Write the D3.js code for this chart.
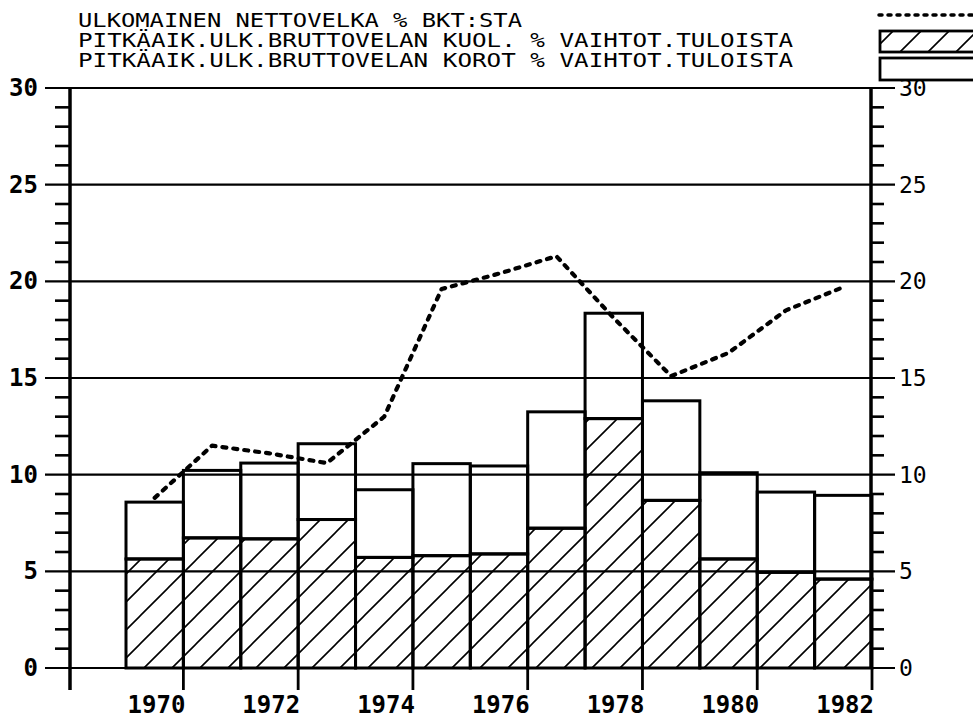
<!DOCTYPE html>
<html><head><meta charset="utf-8">
<script src="https://cdn.jsdelivr.net/npm/d3@7"></script>
<style>html,body{margin:0;padding:0;background:#fff}svg{display:block}</style>
</head><body>
<svg id="c" width="973" height="721"></svg>
<script>
const years = [1970,1971,1972,1973,1974,1975,1976,1977,1978,1979,1980,1981,1982];
const netDebt = [8.8,11.5,11.1,10.6,13.0,19.6,20.4,21.3,18.1,15.1,16.3,18.5,19.7];
const amortization = [5.64,6.73,6.68,7.68,5.72,5.81,5.9,7.23,12.9,8.67,5.64,4.95,4.6];
const interest = [2.94,3.49,3.92,3.92,3.5,4.76,4.55,6.02,5.45,5.15,4.46,4.15,4.33];
const xTickYears = [1970,1972,1974,1976,1978,1980,1982];
const yMajor = [0,5,10,15,20,25,30];
const legendLabels = [
  "ULKOMAINEN NETTOVELKA % BKT:STA",
  "PITKÄAIK.ULK.BRUTTOVELAN KUOL. % VAIHTOT.TULOISTA",
  "PITKÄAIK.ULK.BRUTTOVELAN KOROT % VAIHTOT.TULOISTA"
];

const svg = d3.select("#c");
const x = d3.scaleLinear().domain([1969,1982]).range([126,872]);
const y = d3.scaleLinear().domain([0,30]).range([668,88]);
const mono = "'DejaVu Sans Mono', 'Liberation Mono', monospace";

// hatch pattern
const defs = svg.append("defs");
const pat = defs.append("pattern").attr("id","hatch").attr("patternUnits","userSpaceOnUse")
  .attr("width",28).attr("height",28);
pat.append("path").attr("d","M-7,7 L7,-7 M0,28 L28,0 M21,35 L35,21")
  .attr("stroke","#000").attr("stroke-width",1.6).attr("fill","none");

// gridlines
svg.append("g").selectAll("line").data(yMajor).join("line")
  .attr("x1",45).attr("x2",895).attr("y1",d=>y(d)).attr("y2",d=>y(d))
  .attr("stroke","#000").attr("stroke-width",2.2);

// minor ticks
const minor = d3.range(0,31).filter(d=>d%5!==0);
svg.append("g").selectAll("line").data(minor).join("line")
  .attr("x1",55).attr("x2",70).attr("y1",d=>y(d)).attr("y2",d=>y(d))
  .attr("stroke","#000").attr("stroke-width",2.6);
svg.append("g").selectAll("line").data(minor).join("line")
  .attr("x1",871).attr("x2",884).attr("y1",d=>y(d)).attr("y2",d=>y(d))
  .attr("stroke","#000").attr("stroke-width",2.6);

// axes lines
svg.append("line").attr("x1",70).attr("x2",70).attr("y1",y(30)).attr("y2",690)
  .attr("stroke","#000").attr("stroke-width",3.5);
svg.append("line").attr("x1",871).attr("x2",871).attr("y1",y(30)).attr("y2",y(0))
  .attr("stroke","#000").attr("stroke-width",3.5);

// x ticks
svg.append("g").selectAll("line").data(xTickYears).join("line")
  .attr("x1",d=>x(d)).attr("x2",d=>x(d)).attr("y1",y(0)).attr("y2",690)
  .attr("stroke","#000").attr("stroke-width",2.8);

// bars: amortization (hatched) and interest (open) stacked
const bars = svg.append("g");
bars.selectAll("rect.am").data(years).join("rect").attr("class","am")
  .attr("x",d=>x(d-1)).attr("width",d=>x(d)-x(d-1))
  .attr("y",(d,i)=>y(amortization[i])).attr("height",(d,i)=>y(0)-y(amortization[i]))
  .attr("fill","url(#hatch)").attr("stroke","#000").attr("stroke-width",3);
bars.selectAll("rect.in").data(years).join("rect").attr("class","in")
  .attr("x",d=>x(d-1)).attr("width",d=>x(d)-x(d-1))
  .attr("y",(d,i)=>y(amortization[i]+interest[i])).attr("height",(d,i)=>y(amortization[i])-y(amortization[i]+interest[i]))
  .attr("fill","none").attr("stroke","#000").attr("stroke-width",3);

// net debt line
const line = d3.line().x((d,i)=>x(years[i]-0.5)).y(d=>y(d)).curve(d3.curveLinear);
svg.append("path").datum(netDebt).attr("d",line)
  .attr("fill","none").attr("stroke","#000").attr("stroke-width",4.2)
  .attr("stroke-dasharray","4,7").attr("stroke-linecap","round").attr("stroke-linejoin","round");

// y labels
svg.append("g").selectAll("text").data(yMajor).join("text")
  .attr("x",38).attr("y",d=>y(d)+8).attr("text-anchor","end")
  .attr("font-family",mono).attr("font-weight","bold").attr("font-size",24)
  .text(d=>d);
svg.append("g").selectAll("text").data(yMajor).join("text")
  .attr("x",899).attr("y",d=>y(d)+8).attr("text-anchor","start")
  .attr("font-family",mono).attr("font-size",23)
  .text(d=>d);

// x labels
svg.append("g").selectAll("text").data(xTickYears).join("text")
  .attr("x",d=>x(d)+2).attr("y",713).attr("text-anchor","end")
  .attr("font-family",mono).attr("font-weight","bold").attr("font-size",24)
  .text(d=>d);

// legend
const lens = [444,715,715];
svg.append("g").selectAll("text").data(legendLabels).join("text")
  .attr("x",78).attr("y",(d,i)=>27+i*20)
  .attr("font-family",mono).attr("font-size",19)
  .attr("textLength",(d,i)=>lens[i]).attr("lengthAdjust","spacingAndGlyphs")
  .text(d=>d);
svg.append("line").attr("x1",879).attr("x2",975).attr("y1",15).attr("y2",15)
  .attr("stroke","#000").attr("stroke-width",3.5)
  .attr("stroke-dasharray","3,6").attr("stroke-linecap","round");
svg.append("rect").attr("x",880).attr("y",31).attr("width",110).attr("height",21)
  .attr("fill","#fff").attr("stroke","#000").attr("stroke-width",2.8);
svg.append("rect").attr("x",880).attr("y",31).attr("width",110).attr("height",21)
  .attr("fill","url(#hatch)").attr("stroke","none");
svg.append("rect").attr("x",880).attr("y",58).attr("width",110).attr("height",22)
  .attr("fill","#fff").attr("stroke","#000").attr("stroke-width",2.8);
</script>
</body></html>
